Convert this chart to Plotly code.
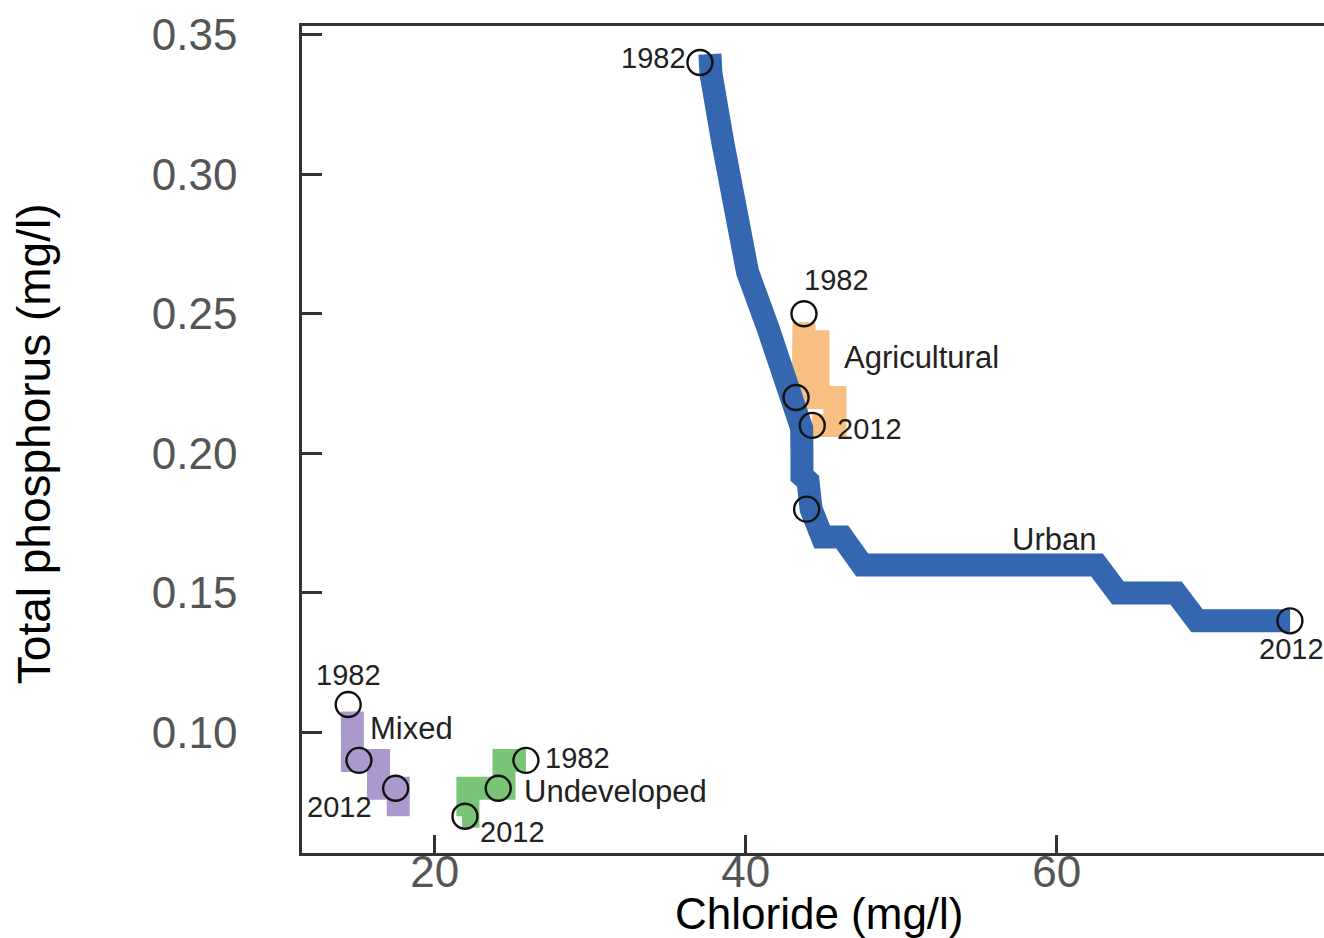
import plotly.graph_objects as go

# ---- data (chloride mg/l, total phosphorus mg/l) ----
urban_line_x = [37.70, 37.77, 38.51, 39.36, 40.12, 41.43, 42.14, 42.98, 43.60, 43.62, 43.62, 44.01, 44.21, 44.92, 46.21, 47.49, 62.59, 63.94, 67.67, 69.03, 75.01]
urban_line_y = [0.343, 0.336, 0.312, 0.288, 0.265, 0.245, 0.233, 0.222, 0.209, 0.200, 0.192, 0.190, 0.180, 0.170, 0.170, 0.160, 0.160, 0.150, 0.150, 0.140, 0.140]

# None splits the agricultural band into two strokes
agri_line_x = [43.75, 43.70, 45.74, 45.74, 44.26, None, 43.75, 44.65, 44.65]
agri_line_y = [0.247, 0.220, 0.220, 0.210, 0.210, None, 0.240, 0.240, 0.222]

mixed_line_x = [14.71, 14.71, 16.39, 16.39, 17.66, 17.66]
mixed_line_y = [0.1075, 0.090, 0.090, 0.080, 0.080, 0.070]

undev_line_x = [25.87, 24.46, 24.46, 22.14, 22.14, 21.76]
undev_line_y = [0.090, 0.090, 0.080, 0.080, 0.070, 0.070]

urban_pts_x = [37.06, 43.24, 43.92, 75.00]
urban_pts_y = [0.34, 0.22, 0.18, 0.14]
agri_pts_x = [43.75, 44.28]
agri_pts_y = [0.25, 0.21]
mixed_pts_x = [14.44, 15.13, 17.49]
mixed_pts_y = [0.11, 0.09, 0.08]
undev_pts_x = [25.87, 24.09, 21.95]
undev_pts_y = [0.09, 0.08, 0.07]

x_ticks = [20, 40, 60]
y_ticks = [0.10, 0.15, 0.20, 0.25, 0.30, 0.35]
y_tick_text = ["0.10", "0.15", "0.20", "0.25", "0.30", "0.35"]

# ---- styles ----
BLUE = "rgb(53,102,176)"
ORANGE = "rgb(248,191,130)"
PURPLE = "rgb(171,152,204)"
GREEN = "rgb(122,196,118)"
LW = 23

fig = go.Figure()
for lx, ly, col in [(agri_line_x, agri_line_y, ORANGE),
                    (urban_line_x, urban_line_y, BLUE),
                    (mixed_line_x, mixed_line_y, PURPLE),
                    (undev_line_x, undev_line_y, GREEN)]:
    fig.add_trace(go.Scatter(x=lx, y=ly, mode="lines", connectgaps=False,
                             line=dict(color=col, width=LW),
                             hoverinfo="skip", showlegend=False))

for px_, py_ in [(urban_pts_x, urban_pts_y), (agri_pts_x, agri_pts_y),
                 (mixed_pts_x, mixed_pts_y), (undev_pts_x, undev_pts_y)]:
    fig.add_trace(go.Scatter(x=px_, y=py_, mode="markers",
                             marker=dict(symbol="circle", size=25,
                                         color="rgba(0,0,0,0)",
                                         line=dict(color="#111111", width=2.4)),
                             hoverinfo="skip", showlegend=False))

LBL = dict(family="Liberation Sans, Arial, sans-serif", color="#222222")
def lab(text, x, y, size, xanchor="center"):
    fig.add_annotation(x=x, y=y, xref="x", yref="y", text=text, showarrow=False,
                       xanchor=xanchor, yanchor="middle",
                       font=dict(size=size, **LBL))

lab("1982", 36.29, 0.3417, 29, "right")
lab("1982", 45.87, 0.262, 29)
lab("Agricultural", 46.17, 0.2345, 31, "left")
lab("2012", 45.74, 0.2087, 29, "left")
lab("Urban", 59.83, 0.1693, 31)
lab("2012", 75.07, 0.130, 29)
lab("1982", 14.49, 0.1207, 29)
lab("Mixed", 15.73, 0.1015, 31, "left")
lab("2012", 13.91, 0.0732, 29)
lab("1982", 26.98, 0.0909, 29, "left")
lab("Undeveloped", 25.59, 0.0790, 31, "left")
lab("2012", 25.0, 0.0643, 29)

TICKFONT = dict(family="Liberation Sans, Arial, sans-serif", size=44, color="#555555")
fig.update_xaxes(range=[11.47, 77.19], tickvals=x_ticks, ticks="inside", ticklen=18,
                 tickwidth=2.5, tickcolor="#333333", showline=True, linewidth=2.5,
                 linecolor="#333333", mirror=True, showgrid=False, zeroline=False,
                 tickfont=TICKFONT, ticklabelstandoff=-22)
fig.update_yaxes(range=[0.05683, 0.35308], tickvals=y_ticks, ticktext=y_tick_text,
                 ticks="inside", ticklen=20, tickwidth=2.5, tickcolor="#333333",
                 showline=True, linewidth=2.5, linecolor="#333333", showgrid=False,
                 zeroline=False, tickfont=TICKFONT, ticklabelstandoff=53)

TITLEFONT = dict(family="Liberation Sans, Arial, sans-serif", size=46, color="#000000")
fig.add_annotation(text="Chloride (mg/l)", xref="paper", yref="paper", x=0.5064, y=-0.0735,
                   showarrow=False, xanchor="center", yanchor="middle",
                   font=dict(family=TITLEFONT["family"], size=44, color="#000000"))
fig.add_annotation(text="Total phosphorus (mg/l)", xref="paper", yref="paper", x=-0.262, y=0.4946,
                   showarrow=False, xanchor="center", yanchor="middle", textangle=-90,
                   font=TITLEFONT)

fig.update_layout(width=1324, height=938, margin=dict(l=302, r=0, t=26, b=85),
                  plot_bgcolor="white", paper_bgcolor="white", showlegend=False,
                  hovermode=False)

fig.write_html("out.html", config={"displayModeBar": False})
